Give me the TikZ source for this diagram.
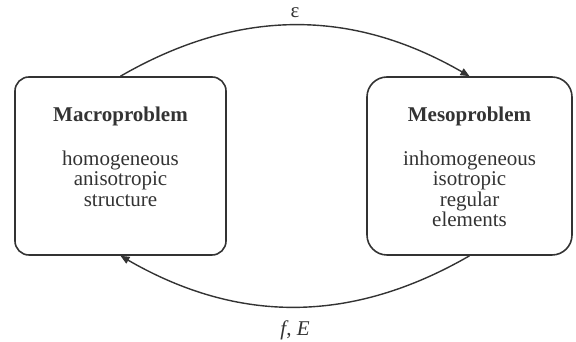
\documentclass[tikz,border=0pt]{standalone}
\usepackage{fontspec}
\setmainfont{Liberation Serif}
\usepackage{xcolor}
\usepackage{tikz}
\usetikzlibrary{arrows.meta}
\usetikzlibrary{positioning}
\definecolor{ink}{rgb}{0.2, 0.2, 0.2}

\begin{document}
\begin{tikzpicture}[x=1pt, y=1pt,
        probbox/.style={draw=ink, line width=1.6pt, minimum height=178pt},
        probtext/.style={align=center, inner sep=0pt, text=ink,
            font=\fontsize{21pt}{20.5pt}\selectfont},
        flow/.style={draw=ink, line width=1.4pt, -{Triangle[length=9pt, width=7.5pt]}},
        flowlabel/.style={inner sep=0pt, text=ink, font=\fontsize{21pt}{21pt}\selectfont}]
        \useasboundingbox (0,0) rectangle (576,342);

        % Boites
        \node[probbox, rounded corners=14pt, minimum width=211pt] (macro) at (120.5,176) {};
        \node[probbox, rounded corners=20pt, minimum width=205pt] (meso) at (469.5,176) {};

        % Textes
        \node[probtext, below=31pt of macro.north] (macrotext)
            {\textbf{Macroproblem}\\[23pt] homogeneous\\ anisotropic\\ structure};
        \node[probtext, below=31pt of meso.north] (mesotext)
            {\textbf{Mesoproblem}\\[23pt] inhomogeneous\\ isotropic\\ regular\\ elements};

        % Fleches
        \draw[flow] (macro.north) to[out=30, in=150]
            node[flowlabel, midway, above=7pt] (eps) {ε} (meso.north);
        \draw[flow] (meso.south) to[out=-150, in=-30]
            node[flowlabel, midway, below=13.5pt] (fe) {\textit{f}, \textit{E}} (macro.south);
    \end{tikzpicture}
\end{document}
